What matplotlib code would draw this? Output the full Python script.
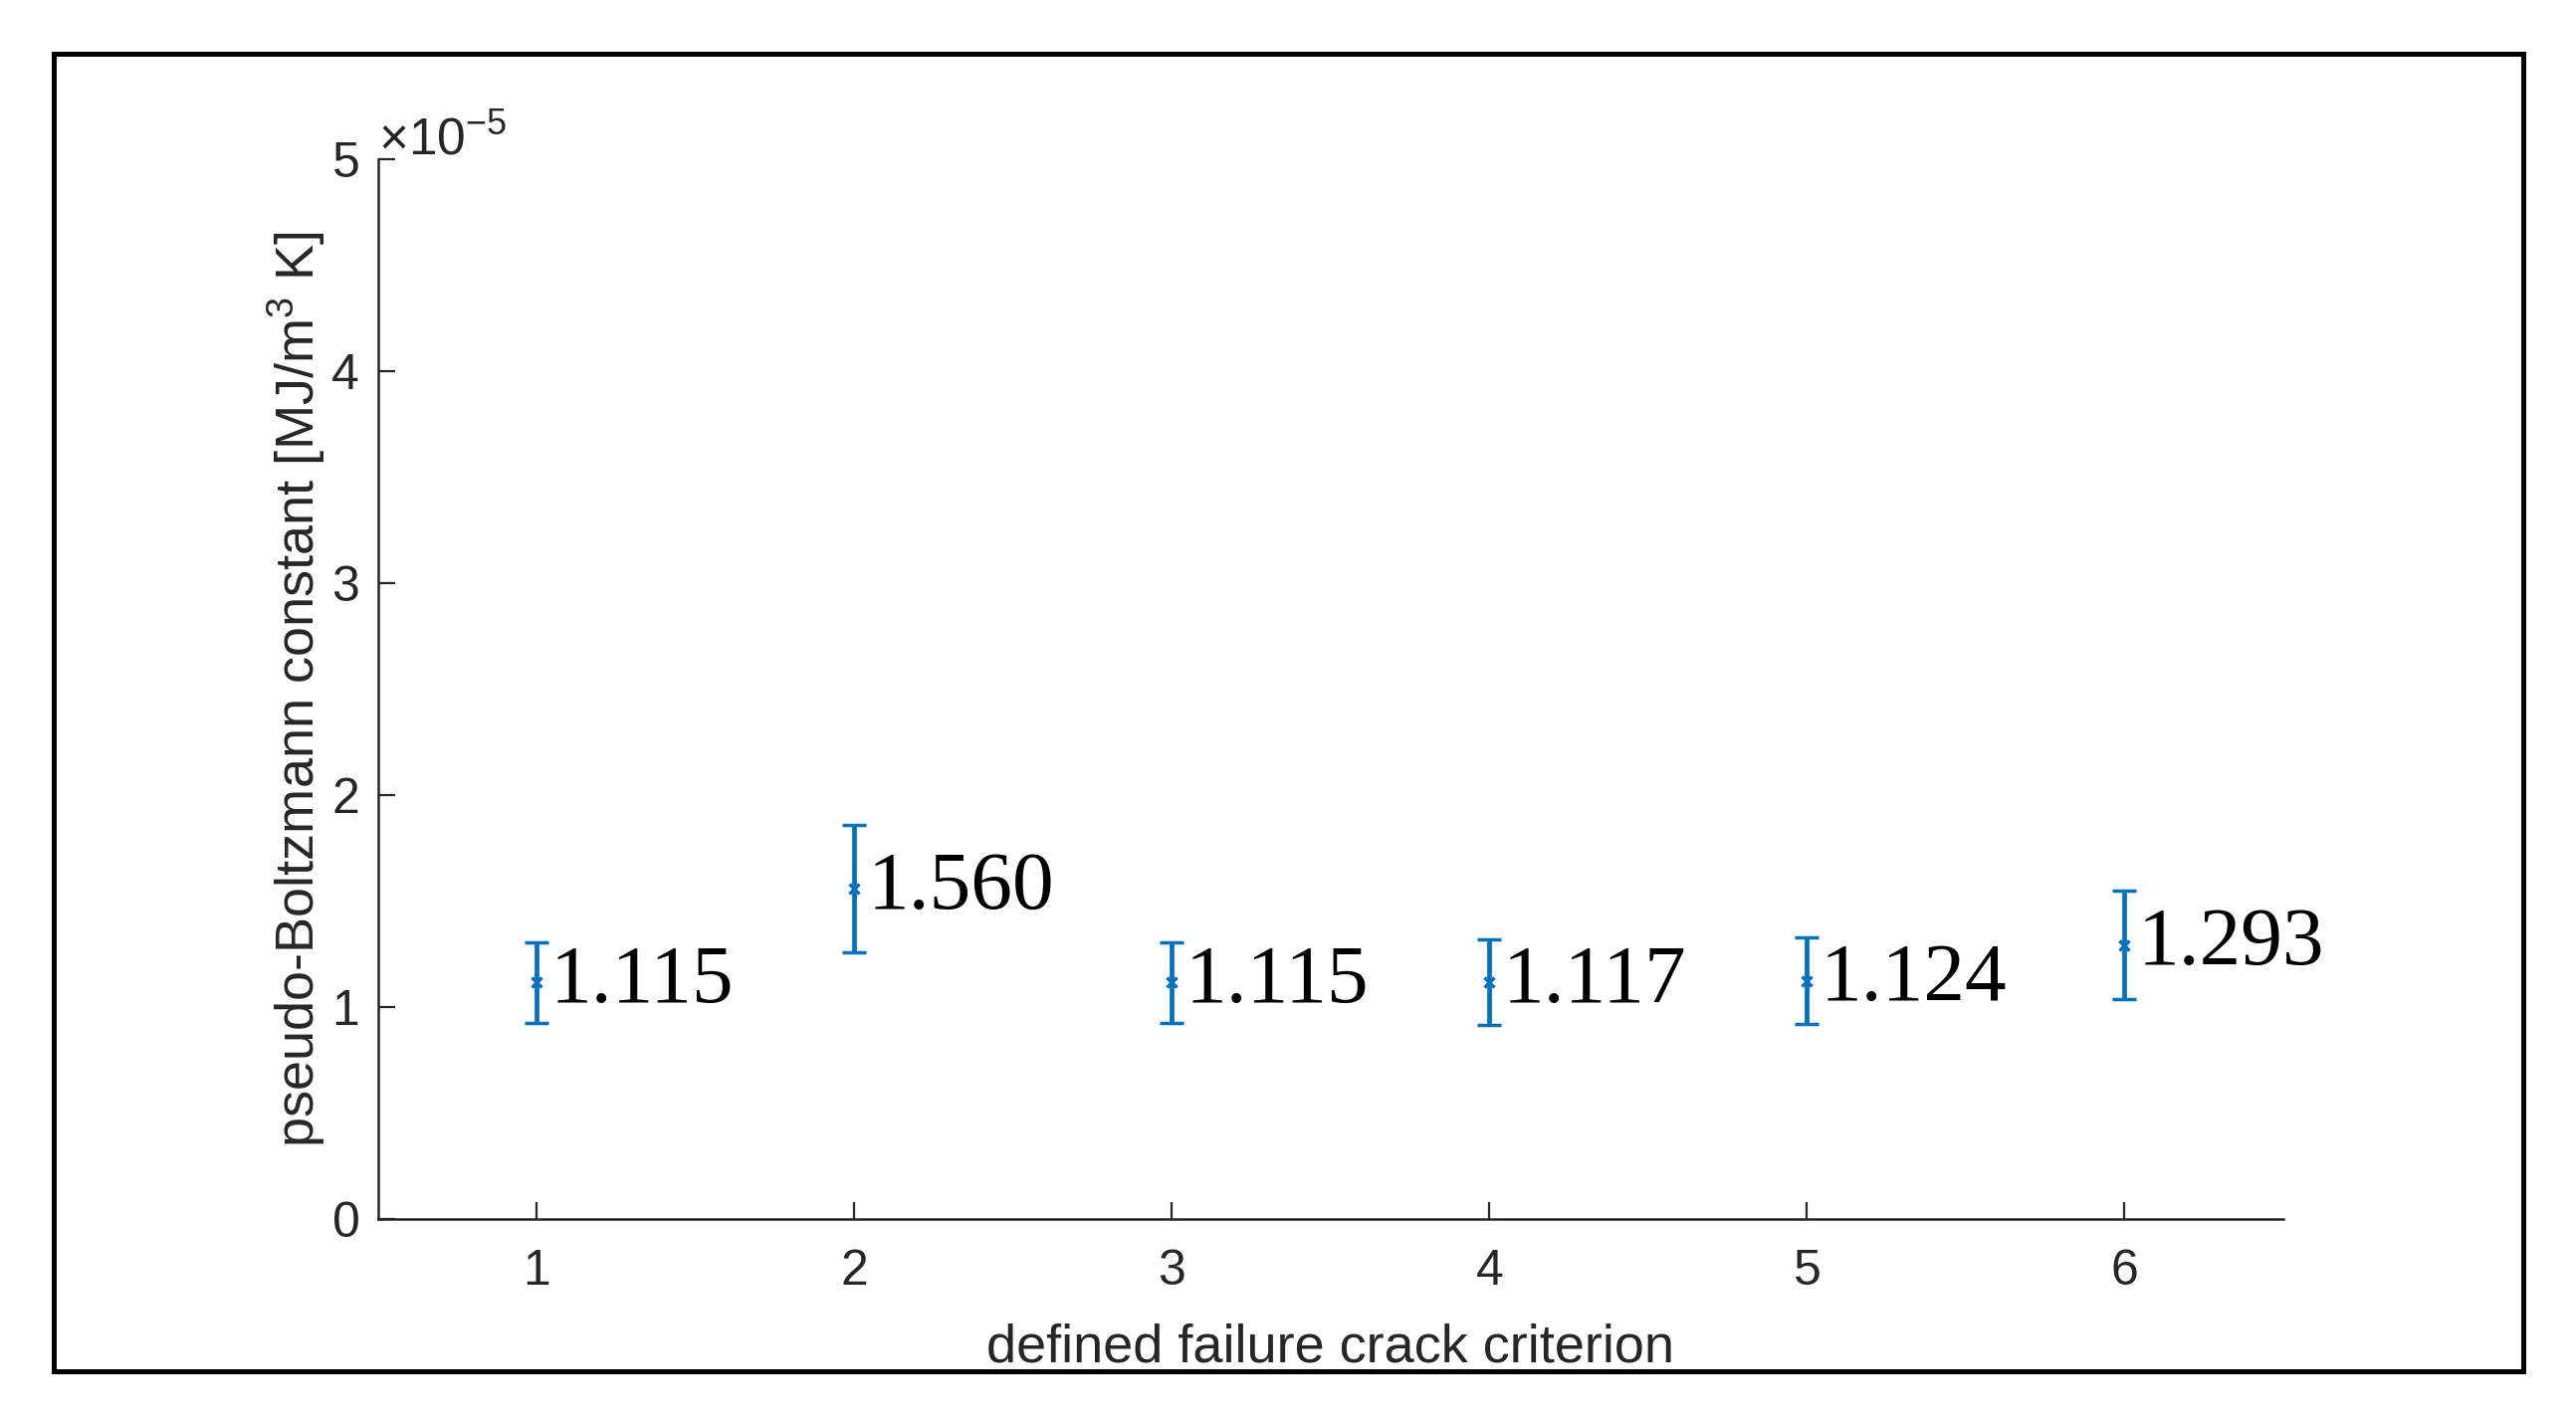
import numpy as np
import matplotlib
matplotlib.use("Agg")
import matplotlib.pyplot as plt
from matplotlib.patches import Rectangle
from matplotlib.ticker import ScalarFormatter

# criterion number, mean value and error (x 1e-5 MJ/m^3 K)
criteria = [1, 2, 3, 4, 5, 6]
k_mean = [1.115, 1.560, 1.115, 1.117, 1.124, 1.293]
k_err = [0.19, 0.30, 0.19, 0.20, 0.205, 0.255]
labels = ["1.115", "1.560", "1.115", "1.117", "1.124", "1.293"]
scale = 1e-5

blue = "#0072BD"
grey = "#262626"

plt.rcParams["font.family"] = ["Liberation Sans", "DejaVu Sans"]
plt.rcParams["mathtext.fontset"] = "custom"
plt.rcParams["mathtext.rm"] = "Liberation Sans"

fig = plt.figure(figsize=(25.88, 14.29), dpi=100)
ax = fig.add_axes([0.1468, 0.1428, 0.7396, 0.7452])

y = np.array(k_mean) * scale
yerr = np.array(k_err) * scale
ax.errorbar(criteria, y, yerr=yerr, fmt="x", color=blue, ecolor=blue,
            elinewidth=3.4, capsize=8.3, capthick=3.4, markersize=7, mew=2.5)

# value labels next to each bar
for xi, yi, lab in zip(criteria, y, labels):
    ax.text(xi + 0.04, yi, lab, ha="left", va="center",
            fontsize=60, family="Liberation Serif", color="black")

ax.set_xlim(0.5, 6.5)
ax.set_ylim(0, 5e-5)
ax.set_xticks(criteria)
ax.set_yticks(np.arange(0, 6) * scale)

fmt = ScalarFormatter(useMathText=True)
fmt.set_powerlimits((0, 0))
ax.yaxis.set_major_formatter(fmt)
ax.yaxis.get_offset_text().set_fontsize(37)
ax.yaxis.get_offset_text().set_color(grey)

for s in ["top", "right"]:
    ax.spines[s].set_visible(False)
for s in ["left", "bottom"]:
    ax.spines[s].set_color(grey)
    ax.spines[s].set_linewidth(1.8)

ax.tick_params(direction="in", length=12, width=1.6, colors=grey,
               labelsize=36, pad=14)
ax.tick_params(axis="x", pad=22)

ax.set_xlabel("defined failure crack criterion", fontsize=39, color=grey, labelpad=20)
ax.set_ylabel(r"pseudo-Boltzmann constant [MJ/m$^3$ K]", fontsize=39, color=grey, labelpad=2)

# black frame round the whole figure
fig.patches.append(Rectangle((0.0209, 0.0357), 0.9586, 0.9265, transform=fig.transFigure,
                             fill=False, edgecolor="black", linewidth=3.6))

fig.savefig("out.png", dpi=100)
